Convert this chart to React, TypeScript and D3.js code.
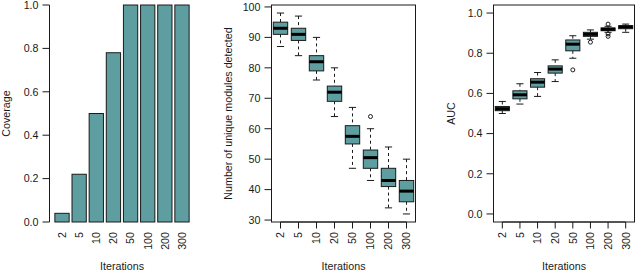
import React from "react";
import * as d3 from "d3";

const categories = ["2", "5", "10", "20", "50", "100", "200", "300"];

// Panel 1: coverage
const coverage = [0.04, 0.22, 0.5, 0.78, 1.0, 1.0, 1.0, 1.0];
const coverageTicks = [0, 0.2, 0.4, 0.6, 0.8, 1.0];

// Panel 2: number of unique modules detected (boxplot stats)
const modLow = [87, 84, 76, 64, 47, 43, 34, 32];
const modQ1 = [91, 89, 79, 69, 55, 47, 41, 36];
const modMed = [93, 91, 82, 72, 57.5, 50.5, 43, 39.5];
const modQ3 = [95, 93, 84, 74, 61, 53, 47, 43];
const modHigh = [98, 97, 90, 80, 67, 60, 54, 50];
const modOutliers: [string, number][] = [["100", 64]];
const modTicks = [30, 40, 50, 60, 70, 80, 90, 100];

// Panel 3: AUC (boxplot stats)
const aucLow = [0.5, 0.547, 0.585, 0.659, 0.775, 0.87, 0.904, 0.904];
const aucQ1 = [0.514, 0.573, 0.631, 0.701, 0.812, 0.884, 0.912, 0.922];
const aucMed = [0.524, 0.593, 0.656, 0.721, 0.845, 0.894, 0.919, 0.931];
const aucQ3 = [0.535, 0.613, 0.673, 0.737, 0.866, 0.904, 0.926, 0.937];
const aucHigh = [0.56, 0.648, 0.704, 0.767, 0.887, 0.916, 0.934, 0.945];
const aucOutliers: [string, number][] = [
  ["50", 0.717],
  ["100", 0.855],
  ["200", 0.945],
  ["200", 0.896],
  ["200", 0.884],
];
const aucTicks = [0, 0.2, 0.4, 0.6, 0.8, 1.0];

const FILL = "#5f9ea0";
const INK = "#1a1a1a";
const FONT = "'Liberation Sans', Arial, Helvetica, sans-serif";
const FS = 10.7;
const TOP = 5;
const BOTTOM = 222;

type YAxisProps = {
  x: number;
  y: d3.ScaleLinear<number, number>;
  ticks: number[];
  fmt: (v: number) => string;
  line: boolean;
};

function YAxis({ x, y, ticks, fmt, line }: YAxisProps) {
  const t0 = y(ticks[0]);
  const t1 = y(ticks[ticks.length - 1]);
  return (
    <g>
      {line && <line x1={x} x2={x} y1={t0} y2={t1} stroke={INK} strokeWidth={1} />}
      {ticks.map((t) => (
        <g key={t}>
          <line x1={x - 7} x2={x} y1={y(t)} y2={y(t)} stroke={INK} strokeWidth={1} />
          <text
            x={x - 11}
            y={y(t)}
            dy="0.36em"
            textAnchor="end"
            fontSize={FS}
            fontFamily={FONT}
            fill={INK}
          >
            {fmt(t)}
          </text>
        </g>
      ))}
    </g>
  );
}

function XLabels({ xs, tickMarks }: { xs: number[]; tickMarks: boolean }) {
  return (
    <g>
      {tickMarks && (
        <line x1={xs[0]} x2={xs[xs.length - 1]} y1={BOTTOM} y2={BOTTOM} stroke={INK} strokeWidth={1} />
      )}
      {categories.map((c, i) => (
        <g key={c}>
          {tickMarks && (
            <line x1={xs[i]} x2={xs[i]} y1={BOTTOM} y2={BOTTOM + 6.5} stroke={INK} strokeWidth={1} />
          )}
          <text
            transform={`translate(${xs[i]},${232}) rotate(-90)`}
            dy="0.36em"
            textAnchor="end"
            fontSize={FS}
            fontFamily={FONT}
            fill={INK}
          >
            {c}
          </text>
        </g>
      ))}
    </g>
  );
}

function AxisTitles({ cx, yTitle, yTitleX }: { cx: number; yTitle: string; yTitleX: number }) {
  return (
    <g fontSize={FS} fontFamily={FONT} fill={INK}>
      <text x={cx} y={270} textAnchor="middle">
        Iterations
      </text>
      <text
        transform={`translate(${yTitleX},${(TOP + BOTTOM) / 2}) rotate(-90)`}
        textAnchor="middle"
      >
        {yTitle}
      </text>
    </g>
  );
}

type BoxPanelProps = {
  left: number;
  right: number;
  y: d3.ScaleLinear<number, number>;
  low: number[];
  q1: number[];
  med: number[];
  q3: number[];
  high: number[];
  outliers: [string, number][];
};

function BoxPanel({ left, right, y, low, q1, med, q3, high, outliers }: BoxPanelProps) {
  const x = d3.scalePoint<string>().domain(categories).range([left, right]).padding(0.5);
  const step = x.step();
  const bw = step * 0.8;
  const sw = bw * 0.5;
  return (
    <g>
      {categories.map((c, i) => {
        const cx = x(c)!;
        return (
          <g key={c}>
            <line x1={cx} x2={cx} y1={y(high[i])} y2={y(q3[i])} stroke={INK} strokeDasharray="3,3" />
            <line x1={cx} x2={cx} y1={y(q1[i])} y2={y(low[i])} stroke={INK} strokeDasharray="3,3" />
            <line x1={cx - sw / 2} x2={cx + sw / 2} y1={y(high[i])} y2={y(high[i])} stroke={INK} />
            <line x1={cx - sw / 2} x2={cx + sw / 2} y1={y(low[i])} y2={y(low[i])} stroke={INK} />
            <rect
              x={cx - bw / 2}
              y={y(q3[i])}
              width={bw}
              height={y(q1[i]) - y(q3[i])}
              fill={FILL}
              stroke={INK}
              strokeWidth={1}
            />
            <line x1={cx - bw / 2} x2={cx + bw / 2} y1={y(med[i])} y2={y(med[i])} stroke="#000" strokeWidth={3} />
          </g>
        );
      })}
      {outliers.map(([c, v], k) => (
        <circle key={k} cx={x(c)!} cy={y(v)} r={2} fill="none" stroke={INK} strokeWidth={1} />
      ))}
      <rect x={left} y={TOP} width={right - left} height={BOTTOM - TOP} fill="none" stroke={INK} strokeWidth={1} />
    </g>
  );
}

export default function App() {
  // Panel 1
  const p1Left = 49.5;
  const p1Right = 194.5;
  const xBar = d3
    .scaleBand<string>()
    .domain(categories)
    .range([p1Left, p1Right])
    .paddingInner(0.2 / 1.2)
    .paddingOuter(0.376 / 1.2);
  const yCov = d3.scaleLinear().domain([0, 1]).range([BOTTOM, TOP]);
  const barCenters = categories.map((c) => xBar(c)! + xBar.bandwidth() / 2);

  // Panel 2
  const p2Left = 271.5;
  const p2Right = 415.5;
  const yMod = d3.scaleLinear().domain([29.36, 100.64]).range([BOTTOM, TOP]);
  const xMod = d3.scalePoint<string>().domain(categories).range([p2Left, p2Right]).padding(0.5);

  // Panel 3
  const p3Left = 493.5;
  const p3Right = 634.5;
  const yAuc = d3.scaleLinear().domain([-0.04, 1.04]).range([BOTTOM, TOP]);
  const xAuc = d3.scalePoint<string>().domain(categories).range([p3Left, p3Right]).padding(0.5);

  const f1 = d3.format(".1f");
  const f0 = d3.format("d");

  return (
    <div style={{ position: "absolute", left: 0, top: 0 }}>
      <svg width={640} height={272} style={{ display: "block", background: "#fff" }}>
        {/* Panel 1 */}
        <g>
          {categories.map((c, i) => (
            <rect
              key={c}
              x={xBar(c)!}
              y={yCov(coverage[i])}
              width={xBar.bandwidth()}
              height={yCov(0) - yCov(coverage[i])}
              fill={FILL}
              stroke={INK}
              strokeWidth={1}
            />
          ))}
          <YAxis x={p1Left} y={yCov} ticks={coverageTicks} fmt={f1} line={true} />
          <XLabels xs={barCenters} tickMarks={false} />
          <AxisTitles cx={(p1Left + p1Right) / 2} yTitle="Coverage" yTitleX={10} />
        </g>

        {/* Panel 2 */}
        <g>
          <BoxPanel
            left={p2Left}
            right={p2Right}
            y={yMod}
            low={modLow}
            q1={modQ1}
            med={modMed}
            q3={modQ3}
            high={modHigh}
            outliers={modOutliers}
          />
          <YAxis x={p2Left} y={yMod} ticks={modTicks} fmt={f0} line={false} />
          <XLabels xs={categories.map((c) => xMod(c)!)} tickMarks={true} />
          <AxisTitles cx={(p2Left + p2Right) / 2} yTitle="Number of unique modules detected" yTitleX={232} />
        </g>

        {/* Panel 3 */}
        <g>
          <BoxPanel
            left={p3Left}
            right={p3Right}
            y={yAuc}
            low={aucLow}
            q1={aucQ1}
            med={aucMed}
            q3={aucQ3}
            high={aucHigh}
            outliers={aucOutliers}
          />
          <YAxis x={p3Left} y={yAuc} ticks={aucTicks} fmt={f1} line={false} />
          <XLabels xs={categories.map((c) => xAuc(c)!)} tickMarks={true} />
          <AxisTitles cx={(p3Left + p3Right) / 2} yTitle="AUC" yTitleX={455} />
        </g>
      </svg>
    </div>
  );
}
